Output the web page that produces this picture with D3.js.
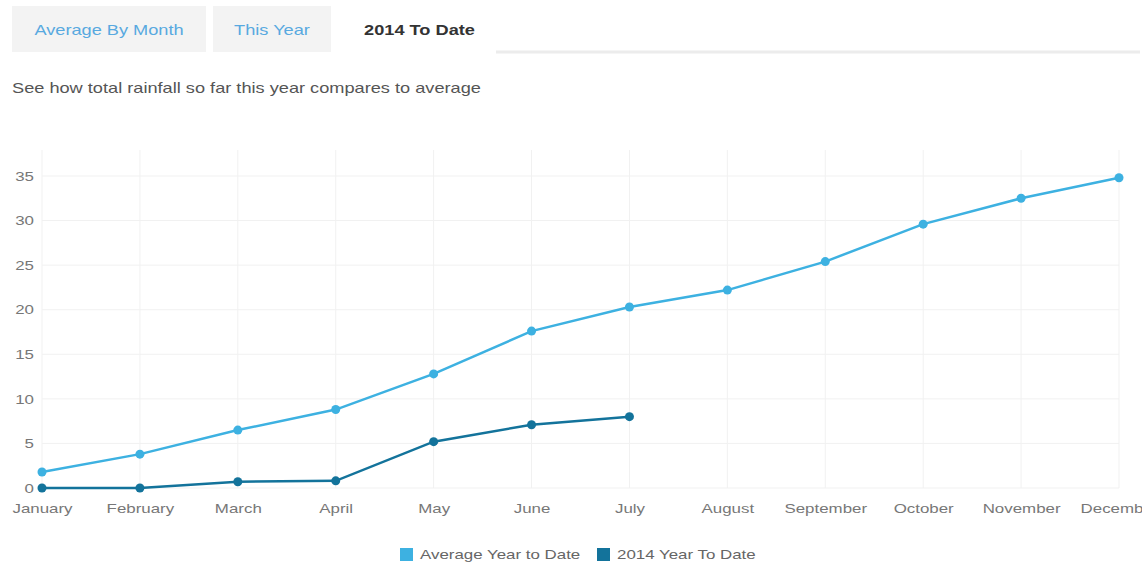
<!DOCTYPE html>
<html>
<head>
<meta charset="utf-8">
<script src="https://cdn.jsdelivr.net/npm/d3@7"></script>
<style>
  body { margin: 0; background: #fff; font-family: "Liberation Sans", Arial, sans-serif; }
  #chart { position: relative; width: 1142px; height: 567px; }
</style>
</head>
<body>
<div id="chart"></div>
<script>
// tabs and captions
const tabs = ["Average By Month", "This Year", "2014 To Date"];
const activeTab = 2;
const subtitle = "See how total rainfall so far this year compares to average";

// chart data (inches, cumulative)
const months = ["January", "February", "March", "April", "May", "June",
                "July", "August", "September", "October", "November", "December"];
const averageToDate = [1.8, 3.8, 6.5, 8.8, 12.8, 17.6, 20.3, 22.2, 25.4, 29.6, 32.5, 34.8];
const toDate2014 = [0, 0, 0.7, 0.8, 5.2, 7.1, 8.0];
const yTicks = [0, 5, 10, 15, 20, 25, 30, 35];

const seriesNames = ["Average Year to Date", "2014 Year To Date"];
const seriesColors = ["#3db1e1", "#13739b"];

const width = 1142, height = 567;
const stretch = 1.3; // the source picture is widened, text looks stretched

const svg = d3.select("#chart").append("svg")
    .attr("width", width)
    .attr("height", height);

// text placed at (x,y) and widened horizontally
function label(x, y, str) {
    return svg.append("text")
        .attr("transform", `translate(${x},${y}) scale(${stretch},1)`)
        .text(str);
}

// tab strip
const tabBoxes = [[12, 194], [213, 118], [343, 153]];
svg.append("line")
    .attr("x1", 496).attr("x2", 1140)
    .attr("y1", 52).attr("y2", 52)
    .attr("stroke", "#ececec").attr("stroke-width", 3);

tabs.forEach((t, i) => {
    const [x, w] = tabBoxes[i];
    const active = i === activeTab;
    svg.append("rect")
        .attr("x", x).attr("y", 6)
        .attr("width", w).attr("height", 46)
        .attr("fill", active ? "#ffffff" : "#f3f3f3");
    label(x + w / 2, 35, t)
        .attr("text-anchor", "middle")
        .attr("font-size", "14px")
        .attr("font-weight", active ? "bold" : "normal")
        .attr("fill", active ? "#333" : "#58a9e0");
});

label(12, 93, subtitle)
    .attr("font-size", "14px")
    .attr("fill", "#555");

// scales
const x = d3.scalePoint().domain(months).range([42, 1119]);
const y = d3.scaleLinear().domain([0, 35]).range([488, 176]);

// grid
const grid = svg.append("g");
grid.selectAll(".hg").data(yTicks).join("line")
    .attr("x1", 42).attr("x2", 1119)
    .attr("y1", d => y(d)).attr("y2", d => y(d))
    .attr("stroke", "#f1f1f1").attr("stroke-width", 1);
grid.selectAll(".vg").data(months).join("line")
    .attr("x1", d => x(d)).attr("x2", d => x(d))
    .attr("y1", 150).attr("y2", 488)
    .attr("stroke", "#f1f1f1").attr("stroke-width", 1);

// axes
const yAxis = svg.append("g")
    .attr("transform", "translate(34,0)")
    .call(d3.axisLeft(y).tickValues(yTicks).tickSize(0).tickPadding(0));
yAxis.select(".domain").remove();
yAxis.selectAll("text")
    .attr("font-family", "Liberation Sans, Arial, sans-serif")
    .attr("font-size", "13px").attr("fill", "#777")
    .attr("transform", `scale(${stretch},1)`);

const xAxis = svg.append("g")
    .attr("transform", "translate(0,500)")
    .call(d3.axisBottom(x).tickSize(0).tickPadding(4));
xAxis.select(".domain").remove();
xAxis.selectAll("text")
    .attr("font-family", "Liberation Sans, Arial, sans-serif")
    .attr("font-size", "13px").attr("fill", "#777")
    .attr("transform", `scale(${stretch},1)`);

// lines and points
const line = d3.line()
    .x((d, i) => x(months[i]))
    .y(d => y(d));

[averageToDate, toDate2014].forEach((vals, s) => {
    svg.append("path")
        .datum(vals)
        .attr("fill", "none")
        .attr("stroke", seriesColors[s])
        .attr("stroke-width", 2.5)
        .attr("d", line);
    svg.selectAll(".pt" + s).data(vals).join("circle")
        .attr("cx", (d, i) => x(months[i]))
        .attr("cy", d => y(d))
        .attr("r", 4.5)
        .attr("fill", seriesColors[s]);
});

// legend
const legendX = [400, 597];
seriesNames.forEach((n, i) => {
    svg.append("rect")
        .attr("x", legendX[i]).attr("y", 548)
        .attr("width", 13).attr("height", 13)
        .attr("fill", seriesColors[i]);
    label(legendX[i] + 20, 559, n)
        .attr("font-size", "13px")
        .attr("fill", "#666");
});
</script>
</body>
</html>
